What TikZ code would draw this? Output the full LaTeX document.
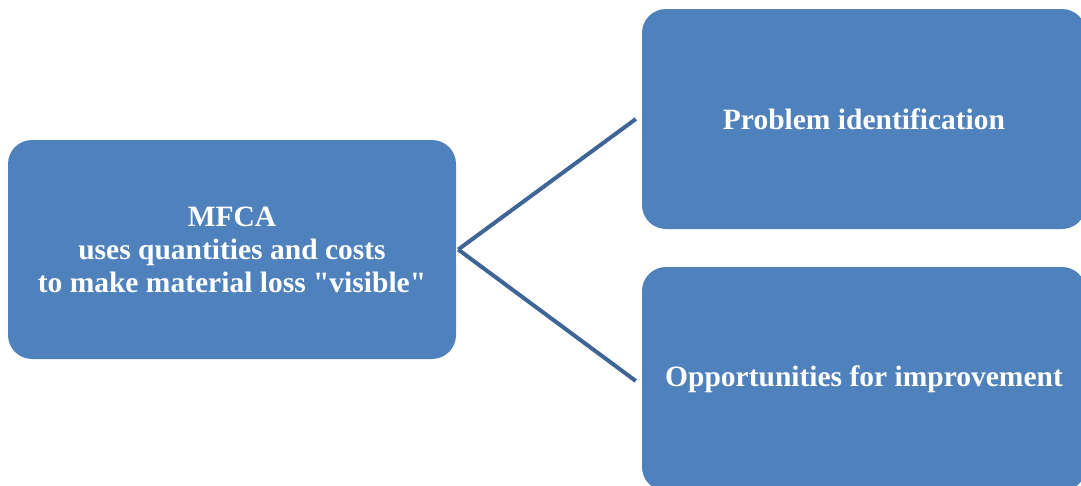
\documentclass[tikz,border=0pt]{standalone}
\usepackage{fontspec}
\setmainfont{Liberation Serif}[Ligatures=TeXOff]
\definecolor{boxblue}{HTML}{4F81BD}
\definecolor{lineblue}{HTML}{3F6597}
\tikzset{
  blueblock/.style={draw=none, fill=boxblue, rounded corners=24pt, text=white,
    font=\fontsize{29.5}{33}\selectfont\bfseries, align=center, inner sep=0pt},
  link/.style={draw=lineblue, line width=4pt}
}
\begin{document}
\begin{tikzpicture}[x=1pt,y=-1pt]
\useasboundingbox (0,0) rectangle (1081,485);
\clip (0,0) rectangle (1081,485);
\node[blueblock, minimum width=448pt, minimum height=219pt] (L) at (232,249.5)
  {MFCA\\uses quantities and costs\\to make material loss "visible"};
\node[blueblock, minimum width=444pt, minimum height=220pt] (T) at (864,119)
  {Problem identification};
\node[blueblock, minimum width=444pt, minimum height=224pt] (B) at (864,379)
  {Opportunities for improvement};
\draw[link] ([xshift=2pt]L.east) -- ([xshift=-6pt]T.west);
\draw[link] ([xshift=2pt]L.east) -- ([xshift=-6pt,yshift=-2pt]B.west);
\end{tikzpicture}
\end{document}
